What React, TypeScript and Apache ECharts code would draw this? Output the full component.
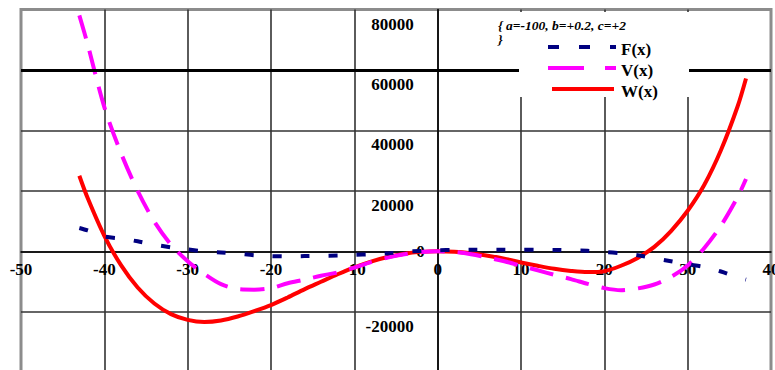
import React, { useEffect, useRef } from 'react';
import * as echarts from 'echarts';

// sample positions (x) shared by the three curves
const xs = [-43, -42, -40, -38, -36, -34, -32, -30, -28, -26, -24, -22, -20, -18, -16, -14, -12, -10, -8, -6, -4, -2, 0, 2, 4, 6, 8, 10, 12, 14, 16, 18, 20, 22, 24, 26, 28, 30, 32, 34, 36, 37];

const fVals = [7700, 6900, 4900, 4200, 3300, 2200, 1300, 600, -100, -400, -800, -1300, -1600, -1700, -1600, -1500, -1400, -1200, -1000, -700, -200, 100, 300, 450, 500, 500, 500, 500, 500, 450, 300, 150, -200, -700, -1300, -2300, -3300, -4300, -5200, -6700, -8600, -9400];

const vVals = [78100, 68500, 47700, 32500, 20000, 9800, 2200, -3300, -7500, -10900, -12500, -12700, -12200, -10600, -9400, -8100, -7000, -5400, -3600, -2100, -1000, -250, 0, -250, -1000, -2100, -3300, -4800, -6300, -7800, -9200, -10800, -12200, -12900, -12300, -11000, -8500, -4700, 1100, 8500, 18000, 23900];

const wVals = [25000, 17600, 5100, -4600, -12000, -17300, -20800, -22700, -23400, -22900, -21600, -19800, -17800, -15300, -12600, -10100, -7600, -5300, -3400, -1900, -800, -200, 0, -180, -690, -1470, -2450, -3700, -4800, -5800, -6500, -6900, -6600, -4800, -2200, 1450, 6700, 13400, 22000, 33500, 48000, 57200];

const seriesNames = ['F(x)', 'V(x)', 'W(x)'];
const paramLines = ['{ a=-100, b=+0.2, c=+2', '}'];
const xMin = -50, xMax = 40, xStep = 10;
const yMin = -40000, yMax = 80000, yStep = 20000;
const boldGridValue = 60000;

const FONT = '"Liberation Serif", "Times New Roman", serif';
const NAVY = '#000080';
const MAGENTA = '#ff00ff';
const RED = '#ff0000';

// plot-area geometry
const GRID_LEFT = 21, GRID_TOP = 9.6, GRID_W = 750, GRID_H = 362.5;
const zeroX = GRID_LEFT + ((0 - xMin) / (xMax - xMin)) * GRID_W;
const zeroY = GRID_TOP + ((yMax - 0) / (yMax - yMin)) * GRID_H;

const pairs = (ys: number[]) => xs.map((x, i) => [x, ys[i]]);

export default function App() {
  const ref = useRef<HTMLDivElement>(null);
  useEffect(() => {
    if (!ref.current) return;
    const chart = echarts.init(ref.current, undefined, { renderer: 'svg' });
    const labelFont = { fontFamily: FONT, fontSize: 17, fontWeight: 'bold' as const, color: '#000' };
    const legendY = [47, 68, 89];
    const yOffset = GRID_LEFT - zeroX; // move the y axis to x = 0
    const xOffset = zeroY - (GRID_TOP + GRID_H); // move the x axis to y = 0
    const option: any = {
      animation: false,
      backgroundColor: '#fff',
      textStyle: { fontFamily: FONT },
      grid: {
        left: GRID_LEFT, top: GRID_TOP, width: GRID_W, height: GRID_H,
        show: true, borderColor: '#8c8c8c', borderWidth: 3,
        containLabel: false, outerBoundsMode: 'none',
      },
      xAxis: {
        type: 'value', min: xMin, max: xMax, interval: xStep, position: 'bottom', offset: xOffset,
        axisLine: { onZero: false, lineStyle: { color: '#000', width: 1.5 } },
        axisTick: { show: false },
        axisLabel: { ...labelFont, margin: 10 },
        splitLine: { show: true, showMinLine: false, showMaxLine: false, lineStyle: { color: '#333', width: 1.6 } },
      },
      yAxis: [
        {
          type: 'value', min: yMin, max: yMax, interval: yStep, position: 'left', offset: yOffset,
          axisLine: { onZero: false, lineStyle: { color: '#000', width: 1.5 } },
          axisTick: { show: false },
          axisLabel: {
            ...labelFont, margin: 24, verticalAlign: 'top', padding: [6, 0, 0, 0],
            formatter: (v: number) => (v === 0 || v === yMin ? '' : String(v)),
          },
          splitLine: { show: true, showMinLine: false, showMaxLine: false, lineStyle: { color: '#333', width: 1.6 } },
        },
        {
          type: 'value', min: yMin, max: yMax, interval: yStep, position: 'left', offset: yOffset,
          axisLine: { show: false, onZero: false },
          axisTick: { show: false },
          splitLine: { show: false },
          axisLabel: { ...labelFont, margin: 13, formatter: (v: number) => (v === 0 ? '0' : '') },
        },
      ],
      series: [
        {
          type: 'line', name: seriesNames[2], data: pairs(wVals), smooth: 0.3,
          symbol: 'none', showSymbol: false,
          lineStyle: { color: RED, width: 4 }, z: 3,
          markLine: {
            silent: true, symbol: ['none', 'none'], label: { show: false },
            lineStyle: { color: '#000', width: 3, type: 'solid' },
            emphasis: { disabled: true },
            data: [{ yAxis: boldGridValue }],
          },
        },
        {
          type: 'line', name: seriesNames[1], data: pairs(vVals), smooth: 0.3,
          symbol: 'none', showSymbol: false,
          lineStyle: { color: MAGENTA, width: 4, type: [24, 13] }, z: 4,
        },
        {
          type: 'line', name: seriesNames[0], data: pairs(fVals), smooth: 0.3,
          symbol: 'none', showSymbol: false,
          lineStyle: { color: NAVY, width: 4, type: [9, 19] }, z: 5,
        },
      ],
      graphic: [
        { type: 'rect', z: 100, shape: { x: 519, y: 12, width: 170, height: 85 }, style: { fill: '#fff' } },
        {
          type: 'text', z: 101, x: 498, y: 18,
          style: { text: paramLines.join('\n'), font: `italic bold 13.5px ${FONT}`, lineHeight: 14, fill: '#000', verticalAlign: 'top' },
        },
        { type: 'line', z: 101, shape: { x1: 548, y1: legendY[0], x2: 616, y2: legendY[0] }, style: { stroke: NAVY, lineWidth: 4, lineDash: [11, 20] } },
        { type: 'line', z: 101, shape: { x1: 548, y1: legendY[1], x2: 616, y2: legendY[1] }, style: { stroke: MAGENTA, lineWidth: 4, lineDash: [36, 21] } },
        { type: 'line', z: 101, shape: { x1: 552, y1: legendY[2], x2: 614, y2: legendY[2] }, style: { stroke: RED, lineWidth: 4 } },
        ...seriesNames.map((n, i) => ({
          type: 'text', z: 101, x: 621, y: legendY[i] + 2,
          style: { text: n, font: `bold 17px ${FONT}`, fill: '#000', verticalAlign: 'middle' },
        })),
      ],
    };
    chart.setOption(option);
    return () => chart.dispose();
  }, []);
  return <div ref={ref} style={{ position: 'fixed', left: 0, top: 0, width: 775, height: 370, background: '#fff' }} />;
}
